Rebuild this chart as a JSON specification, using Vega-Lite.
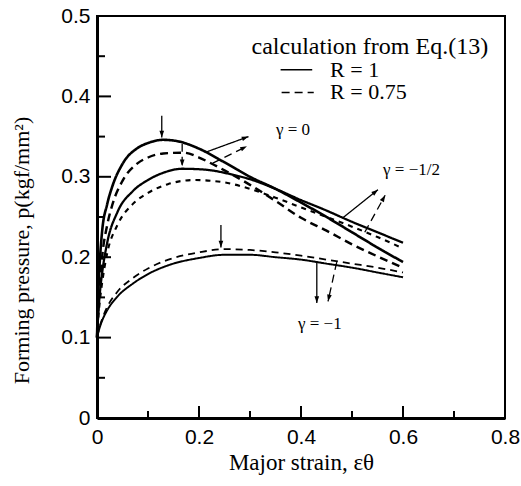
{
  "$schema": "https://vega.github.io/schema/vega-lite/v6.json",
  "width": 408,
  "height": 402,
  "autosize": {"type": "none"},
  "padding": {"left": 97, "top": 16, "right": 16, "bottom": 68},
  "background": "white",
  "config": {"view": {"stroke": "black", "strokeWidth": 2}},
  "datasets": {
    "curves": [
      {"c": "g0R1", "x": 0, "y": 0.1}, {"c": "g0R1", "x": 0.003, "y": 0.165}, {"c": "g0R1", "x": 0.006, "y": 0.2}, {"c": "g0R1", "x": 0.01, "y": 0.232}, {"c": "g0R1", "x": 0.02, "y": 0.266}, {"c": "g0R1", "x": 0.03, "y": 0.288}, {"c": "g0R1", "x": 0.05, "y": 0.316}, {"c": "g0R1", "x": 0.08, "y": 0.336}, {"c": "g0R1", "x": 0.1, "y": 0.342}, {"c": "g0R1", "x": 0.13, "y": 0.346}, {"c": "g0R1", "x": 0.16, "y": 0.344}, {"c": "g0R1", "x": 0.2, "y": 0.335}, {"c": "g0R1", "x": 0.25, "y": 0.318}, {"c": "g0R1", "x": 0.3, "y": 0.3}, {"c": "g0R1", "x": 0.35, "y": 0.285}, {"c": "g0R1", "x": 0.4, "y": 0.268}, {"c": "g0R1", "x": 0.45, "y": 0.25}, {"c": "g0R1", "x": 0.5, "y": 0.231}, {"c": "g0R1", "x": 0.55, "y": 0.212}, {"c": "g0R1", "x": 0.6, "y": 0.194},
      {"c": "g0R075", "x": 0, "y": 0.1}, {"c": "g0R075", "x": 0.003, "y": 0.14}, {"c": "g0R075", "x": 0.006, "y": 0.17}, {"c": "g0R075", "x": 0.01, "y": 0.2}, {"c": "g0R075", "x": 0.02, "y": 0.24}, {"c": "g0R075", "x": 0.03, "y": 0.265}, {"c": "g0R075", "x": 0.05, "y": 0.295}, {"c": "g0R075", "x": 0.08, "y": 0.317}, {"c": "g0R075", "x": 0.1, "y": 0.324}, {"c": "g0R075", "x": 0.13, "y": 0.329}, {"c": "g0R075", "x": 0.17, "y": 0.33}, {"c": "g0R075", "x": 0.2, "y": 0.324}, {"c": "g0R075", "x": 0.22, "y": 0.318}, {"c": "g0R075", "x": 0.25, "y": 0.308}, {"c": "g0R075", "x": 0.3, "y": 0.29}, {"c": "g0R075", "x": 0.35, "y": 0.27}, {"c": "g0R075", "x": 0.4, "y": 0.249}, {"c": "g0R075", "x": 0.45, "y": 0.233}, {"c": "g0R075", "x": 0.5, "y": 0.216}, {"c": "g0R075", "x": 0.55, "y": 0.201}, {"c": "g0R075", "x": 0.6, "y": 0.187},
      {"c": "g05R1", "x": 0, "y": 0.1}, {"c": "g05R1", "x": 0.003, "y": 0.135}, {"c": "g05R1", "x": 0.006, "y": 0.158}, {"c": "g05R1", "x": 0.01, "y": 0.18}, {"c": "g05R1", "x": 0.02, "y": 0.218}, {"c": "g05R1", "x": 0.04, "y": 0.256}, {"c": "g05R1", "x": 0.07, "y": 0.282}, {"c": "g05R1", "x": 0.1, "y": 0.296}, {"c": "g05R1", "x": 0.13, "y": 0.305}, {"c": "g05R1", "x": 0.167, "y": 0.31}, {"c": "g05R1", "x": 0.21, "y": 0.309}, {"c": "g05R1", "x": 0.27, "y": 0.302}, {"c": "g05R1", "x": 0.3, "y": 0.297}, {"c": "g05R1", "x": 0.35, "y": 0.285}, {"c": "g05R1", "x": 0.4, "y": 0.271}, {"c": "g05R1", "x": 0.45, "y": 0.258}, {"c": "g05R1", "x": 0.5, "y": 0.244}, {"c": "g05R1", "x": 0.55, "y": 0.231}, {"c": "g05R1", "x": 0.6, "y": 0.218},
      {"c": "g05R075", "x": 0, "y": 0.1}, {"c": "g05R075", "x": 0.003, "y": 0.128}, {"c": "g05R075", "x": 0.006, "y": 0.148}, {"c": "g05R075", "x": 0.01, "y": 0.168}, {"c": "g05R075", "x": 0.02, "y": 0.205}, {"c": "g05R075", "x": 0.04, "y": 0.24}, {"c": "g05R075", "x": 0.07, "y": 0.266}, {"c": "g05R075", "x": 0.1, "y": 0.28}, {"c": "g05R075", "x": 0.14, "y": 0.291}, {"c": "g05R075", "x": 0.19, "y": 0.296}, {"c": "g05R075", "x": 0.25, "y": 0.293}, {"c": "g05R075", "x": 0.3, "y": 0.285}, {"c": "g05R075", "x": 0.35, "y": 0.274}, {"c": "g05R075", "x": 0.4, "y": 0.262}, {"c": "g05R075", "x": 0.45, "y": 0.25}, {"c": "g05R075", "x": 0.5, "y": 0.238}, {"c": "g05R075", "x": 0.55, "y": 0.225}, {"c": "g05R075", "x": 0.6, "y": 0.211},
      {"c": "g1R1", "x": 0, "y": 0.1}, {"c": "g1R1", "x": 0.005, "y": 0.112}, {"c": "g1R1", "x": 0.01, "y": 0.121}, {"c": "g1R1", "x": 0.02, "y": 0.134}, {"c": "g1R1", "x": 0.04, "y": 0.151}, {"c": "g1R1", "x": 0.07, "y": 0.167}, {"c": "g1R1", "x": 0.1, "y": 0.179}, {"c": "g1R1", "x": 0.14, "y": 0.19}, {"c": "g1R1", "x": 0.2, "y": 0.199}, {"c": "g1R1", "x": 0.25, "y": 0.203}, {"c": "g1R1", "x": 0.3, "y": 0.203}, {"c": "g1R1", "x": 0.35, "y": 0.2}, {"c": "g1R1", "x": 0.4, "y": 0.197}, {"c": "g1R1", "x": 0.45, "y": 0.192}, {"c": "g1R1", "x": 0.5, "y": 0.187}, {"c": "g1R1", "x": 0.55, "y": 0.181}, {"c": "g1R1", "x": 0.6, "y": 0.175},
      {"c": "g1R075", "x": 0, "y": 0.1}, {"c": "g1R075", "x": 0.005, "y": 0.113}, {"c": "g1R075", "x": 0.01, "y": 0.123}, {"c": "g1R075", "x": 0.02, "y": 0.138}, {"c": "g1R075", "x": 0.04, "y": 0.157}, {"c": "g1R075", "x": 0.07, "y": 0.174}, {"c": "g1R075", "x": 0.1, "y": 0.186}, {"c": "g1R075", "x": 0.14, "y": 0.197}, {"c": "g1R075", "x": 0.2, "y": 0.206}, {"c": "g1R075", "x": 0.25, "y": 0.21}, {"c": "g1R075", "x": 0.3, "y": 0.209}, {"c": "g1R075", "x": 0.35, "y": 0.206}, {"c": "g1R075", "x": 0.4, "y": 0.202}, {"c": "g1R075", "x": 0.45, "y": 0.197}, {"c": "g1R075", "x": 0.5, "y": 0.192}, {"c": "g1R075", "x": 0.55, "y": 0.187}, {"c": "g1R075", "x": 0.6, "y": 0.181}
    ],
    "arrows": [
      {"R": "1", "x": 0.127, "y": 0.376, "xe": 0.127, "ye": 0.349},
      {"R": "0.75", "x": 0.167, "y": 0.341, "xe": 0.167, "ye": 0.313},
      {"R": "1", "x": 0.215, "y": 0.331, "xe": 0.297, "ye": 0.35},
      {"R": "0.75", "x": 0.227, "y": 0.317, "xe": 0.294, "ye": 0.338},
      {"R": "1", "x": 0.482, "y": 0.249, "xe": 0.551, "ye": 0.284},
      {"R": "0.75", "x": 0.525, "y": 0.231, "xe": 0.565, "ye": 0.277},
      {"R": "1", "x": 0.243, "y": 0.24, "xe": 0.243, "ye": 0.212},
      {"R": "1", "x": 0.431, "y": 0.194, "xe": 0.431, "ye": 0.143},
      {"R": "0.75", "x": 0.47, "y": 0.194, "xe": 0.453, "ye": 0.145}
    ],
    "xTicks": [
      {"v": 0.1, "k": "minor"}, {"v": 0.2, "k": "major"}, {"v": 0.3, "k": "minor"}, {"v": 0.4, "k": "major"},
      {"v": 0.5, "k": "minor"}, {"v": 0.6, "k": "major"}, {"v": 0.7, "k": "minor"}
    ],
    "yTicks": [
      {"v": 0.05, "k": "minor"}, {"v": 0.1, "k": "major"}, {"v": 0.15, "k": "minor"}, {"v": 0.2, "k": "major"},
      {"v": 0.25, "k": "minor"}, {"v": 0.3, "k": "major"}, {"v": 0.35, "k": "minor"}, {"v": 0.4, "k": "major"},
      {"v": 0.45, "k": "minor"}
    ],
    "legendLines": [
      {"R": "1", "x": 0.36, "xe": 0.422, "y": 0.433},
      {"R": "0.75", "x": 0.362, "xe": 0.425, "y": 0.405}
    ],
    "legendTitle": [
      {"t": "calculation from Eq.(13)", "x": 0.535, "y": 0.461}
    ],
    "legendText": [
      {"t": "R = 1", "x": 0.457, "y": 0.433},
      {"t": "R = 0.75", "x": 0.457, "y": 0.405}
    ],
    "gammaText": [
      {"t": "γ = 0", "x": 0.351, "y": 0.358},
      {"t": "γ = −1/2", "x": 0.561, "y": 0.308},
      {"t": "γ = −1", "x": 0.394, "y": 0.117}
    ]
  },
  "layer": [
    {
      "data": {"name": "curves"},
      "mark": {"type": "line", "interpolate": "monotone", "color": "black"},
      "encoding": {
        "x": {"field": "x", "type": "quantitative", "scale": {"domain": [0, 0.8], "nice": false, "zero": false},
          "axis": {"orient": "bottom", "values": [0, 0.2, 0.4, 0.6, 0.8], "format": "~g", "grid": false, "ticks": false, "domainWidth": 3, "domainColor": "black", "labelFont": "Liberation Sans", "labelFontSize": 21, "labelColor": "black", "labelPadding": 8, "labelFlush": false, "labelOverlap": false, "title": "Major strain, εθ", "titleFont": "Liberation Serif", "titleFontSize": 23, "titleFontWeight": "normal", "titleColor": "black", "titlePadding": 4}},
        "y": {"field": "y", "type": "quantitative", "scale": {"domain": [0, 0.5], "nice": false, "zero": false},
          "axis": {"orient": "left", "values": [0, 0.1, 0.2, 0.3, 0.4, 0.5], "format": "~g", "grid": false, "ticks": false, "domainWidth": 3, "domainColor": "black", "labelFont": "Liberation Sans", "labelFontSize": 21, "labelColor": "black", "labelPadding": 7, "labelFlush": false, "labelOverlap": false, "title": "Forming pressure, p(kgf/mm²)", "titleFont": "Liberation Serif", "titleFontSize": 22, "titleFontWeight": "normal", "titleColor": "black", "titleX": -64, "titleY": 234}},
        "detail": {"field": "c", "type": "nominal"},
        "strokeWidth": {"field": "c", "type": "nominal", "legend": null, "scale": {"domain": ["g0R1", "g0R075", "g05R1", "g05R075", "g1R1", "g1R075"], "range": [2.6, 1.8, 1.0, 1.0, 1.5, 1.2]}},
        "strokeDash": {"field": "c", "type": "nominal", "legend": null, "scale": {"domain": ["g0R1", "g0R075", "g05R1", "g05R075", "g1R1", "g1R075"], "range": [[1, 0], [8, 5], [1, 0], [5, 5], [1, 0], [7, 5]]}}
      }
    },
    {
      "data": {"name": "xTicks"},
      "transform": [{"filter": "datum.k == 'major'"}],
      "mark": {"type": "tick", "orient": "vertical", "color": "black", "size": 12, "thickness": 2, "opacity": 1, "yOffset": -6},
      "encoding": {
        "x": {"field": "v", "type": "quantitative", "scale": {"domain": [0, 0.8], "nice": false, "zero": false}, "axis": null},
        "y": {"datum": 0, "type": "quantitative", "scale": {"domain": [0, 0.5], "nice": false, "zero": false}, "axis": null}
      }
    },
    {
      "data": {"name": "xTicks"},
      "transform": [{"filter": "datum.k == 'minor'"}],
      "mark": {"type": "tick", "orient": "vertical", "color": "black", "size": 7, "thickness": 2, "opacity": 1, "yOffset": -3.5},
      "encoding": {
        "x": {"field": "v", "type": "quantitative", "scale": {"domain": [0, 0.8], "nice": false, "zero": false}, "axis": null},
        "y": {"datum": 0, "type": "quantitative", "scale": {"domain": [0, 0.5], "nice": false, "zero": false}, "axis": null}
      }
    },
    {
      "data": {"name": "yTicks"},
      "transform": [{"filter": "datum.k == 'major'"}],
      "mark": {"type": "tick", "orient": "horizontal", "color": "black", "size": 14, "thickness": 2, "opacity": 1, "xOffset": 7},
      "encoding": {
        "y": {"field": "v", "type": "quantitative", "scale": {"domain": [0, 0.5], "nice": false, "zero": false}, "axis": null},
        "x": {"datum": 0, "type": "quantitative", "scale": {"domain": [0, 0.8], "nice": false, "zero": false}, "axis": null}
      }
    },
    {
      "data": {"name": "yTicks"},
      "transform": [{"filter": "datum.k == 'minor'"}],
      "mark": {"type": "tick", "orient": "horizontal", "color": "black", "size": 8, "thickness": 2, "opacity": 1, "xOffset": 4},
      "encoding": {
        "y": {"field": "v", "type": "quantitative", "scale": {"domain": [0, 0.5], "nice": false, "zero": false}, "axis": null},
        "x": {"datum": 0, "type": "quantitative", "scale": {"domain": [0, 0.8], "nice": false, "zero": false}, "axis": null}
      }
    },
    {
      "data": {"name": "arrows"},
      "mark": {"type": "rule", "color": "black", "strokeWidth": 1.3},
      "encoding": {
        "x": {"field": "x", "type": "quantitative", "scale": {"domain": [0, 0.8], "nice": false, "zero": false}, "axis": null},
        "y": {"field": "y", "type": "quantitative", "scale": {"domain": [0, 0.5], "nice": false, "zero": false}, "axis": null},
        "x2": {"field": "xe"},
        "y2": {"field": "ye"},
        "strokeDash": {"field": "R", "type": "nominal", "legend": null, "scale": {"domain": ["1", "0.75"], "range": [[1, 0], [5, 3]]}}
      }
    },
    {
      "data": {"name": "arrows"},
      "transform": [{"calculate": "atan2((datum.xe - datum.x) * 510, (datum.ye - datum.y) * 804) * 180 / PI", "as": "ang"}],
      "mark": {"type": "point", "shape": "M0,0L-0.38,1.1L0.38,1.1Z", "filled": true, "color": "black", "opacity": 1, "size": 150},
      "encoding": {
        "x": {"field": "xe", "type": "quantitative", "scale": {"domain": [0, 0.8], "nice": false, "zero": false}, "axis": null},
        "y": {"field": "ye", "type": "quantitative", "scale": {"domain": [0, 0.5], "nice": false, "zero": false}, "axis": null},
        "angle": {"field": "ang", "type": "quantitative", "scale": null}
      }
    },
    {
      "data": {"name": "legendLines"},
      "mark": {"type": "rule", "color": "black", "strokeWidth": 1.5},
      "encoding": {
        "x": {"field": "x", "type": "quantitative", "scale": {"domain": [0, 0.8], "nice": false, "zero": false}, "axis": null},
        "x2": {"field": "xe"},
        "y": {"field": "y", "type": "quantitative", "scale": {"domain": [0, 0.5], "nice": false, "zero": false}, "axis": null},
        "strokeDash": {"field": "R", "type": "nominal", "legend": null, "scale": {"domain": ["1", "0.75"], "range": [[1, 0], [6, 5]]}}
      }
    },
    {
      "data": {"name": "legendTitle"},
      "mark": {"type": "text", "align": "center", "baseline": "middle", "font": "Liberation Serif", "fontSize": 24, "color": "black"},
      "encoding": {
        "x": {"field": "x", "type": "quantitative", "scale": {"domain": [0, 0.8], "nice": false, "zero": false}, "axis": null},
        "y": {"field": "y", "type": "quantitative", "scale": {"domain": [0, 0.5], "nice": false, "zero": false}, "axis": null},
        "text": {"field": "t"}
      }
    },
    {
      "data": {"name": "legendText"},
      "mark": {"type": "text", "align": "left", "baseline": "middle", "font": "Liberation Serif", "fontSize": 22, "color": "black"},
      "encoding": {
        "x": {"field": "x", "type": "quantitative", "scale": {"domain": [0, 0.8], "nice": false, "zero": false}, "axis": null},
        "y": {"field": "y", "type": "quantitative", "scale": {"domain": [0, 0.5], "nice": false, "zero": false}, "axis": null},
        "text": {"field": "t"}
      }
    },
    {
      "data": {"name": "gammaText"},
      "mark": {"type": "text", "align": "left", "baseline": "middle", "font": "Liberation Serif", "fontSize": 17, "color": "black"},
      "encoding": {
        "x": {"field": "x", "type": "quantitative", "scale": {"domain": [0, 0.8], "nice": false, "zero": false}, "axis": null},
        "y": {"field": "y", "type": "quantitative", "scale": {"domain": [0, 0.5], "nice": false, "zero": false}, "axis": null},
        "text": {"field": "t"}
      }
    }
  ],
  "resolve": {"axis": {"x": "independent", "y": "independent"}}
}
